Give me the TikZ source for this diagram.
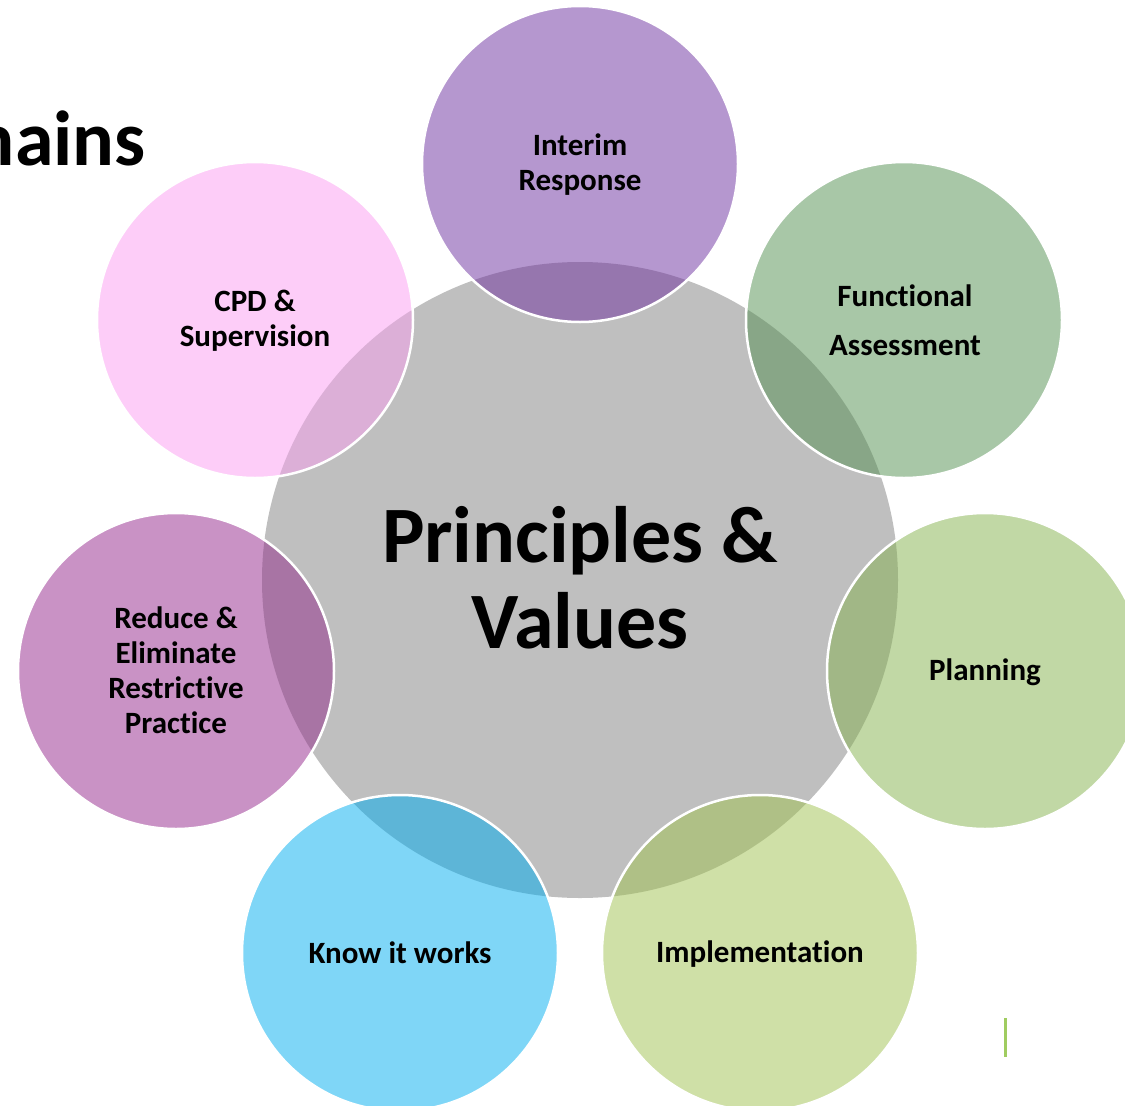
\documentclass[tikz,border=0pt]{standalone}
\usepackage{fontspec}
\setmainfont{Carlito}[Ligatures=NoCommon]
\definecolor{cgray}{HTML}{BFBFBF}
\definecolor{irL}{HTML}{B597CF}\definecolor{irD}{HTML}{9676AE}
\definecolor{faL}{HTML}{A8C7A7}\definecolor{faD}{HTML}{88A687}
\definecolor{plL}{HTML}{C1D8A5}\definecolor{plD}{HTML}{A1B786}
\definecolor{imL}{HTML}{CFE0A7}\definecolor{imD}{HTML}{AFC086}
\definecolor{kwL}{HTML}{7FD6F7}\definecolor{kwD}{HTML}{5DB5D7}
\definecolor{reL}{HTML}{C992C5}\definecolor{reD}{HTML}{A874A4}
\definecolor{cpL}{HTML}{FDCDF8}\definecolor{cpD}{HTML}{DCAFD7}
\definecolor{barG}{HTML}{A0CC60}
\newcommand{\petal}[5]{%
  \node[petalbox, fill=#4] (#1) at (#2,#3) {};
  \begin{scope}
    \clip (580,580) circle[radius=318pt];
    \fill[#5] (#2,#3) circle[radius=158pt];
  \end{scope}
  \draw[rim] (#2,#3) circle[radius=158pt];
}
\begin{document}
\begin{tikzpicture}[x=1pt,y=-1pt,
  lbl/.style={font=\fontsize{31}{35}\selectfont\bfseries, align=center, text=black, inner sep=0pt},
  petalbox/.style={circle, minimum size=316pt, inner sep=0pt},
  rim/.style={draw=white, line width=2.5pt}]
\useasboundingbox (0,0) rectangle (1125,1106);
\clip (0,0) rectangle (1125,1106);
\node[anchor=base east, inner sep=0pt, font=\fontsize{78}{84}\selectfont\bfseries] (title) at (146,165) {mains};
\node[circle, fill=cgray, minimum size=636pt, inner sep=0pt] (core) at (580,580) {};
\petal{ir}{580}{164}{irL}{irD}
\petal{fa}{904}{320}{faL}{faD}
\petal{pl}{985}{671}{plL}{plD}
\petal{im}{760}{953}{imL}{imD}
\petal{kw}{400}{953}{kwL}{kwD}
\petal{re}{176}{671}{reL}{reD}
\petal{cp}{255}{320}{cpL}{cpD}
\node[font=\fontsize{80}{86}\selectfont\bfseries, align=center, inner sep=0pt] (coreT) at (580,578) {Principles \&\\Values};
\node[lbl] (irT) at (580,165) {Interim\\Response};
\node[lbl, font=\fontsize{31}{49}\selectfont\bfseries] (faT) at (905,320) {Functional\\Assessment};
\node[lbl] (plT) at (985,672) {Planning};
\node[lbl] (imT) at (760,954) {Implementation};
\node[lbl] (kwT) at (400,953) {Know it works};
\node[lbl] (reT) at (176,670) {Reduce \&\\Eliminate\\Restrictive\\Practice};
\node[lbl] (cpT) at (255,321) {CPD \&\\Supervision};
\coordinate (barA) at (1005.5,1018);
\coordinate (barB) at (1005.5,1057);
\draw[barG, line width=2.5pt] (barA) -- (barB);
\end{tikzpicture}
\end{document}
